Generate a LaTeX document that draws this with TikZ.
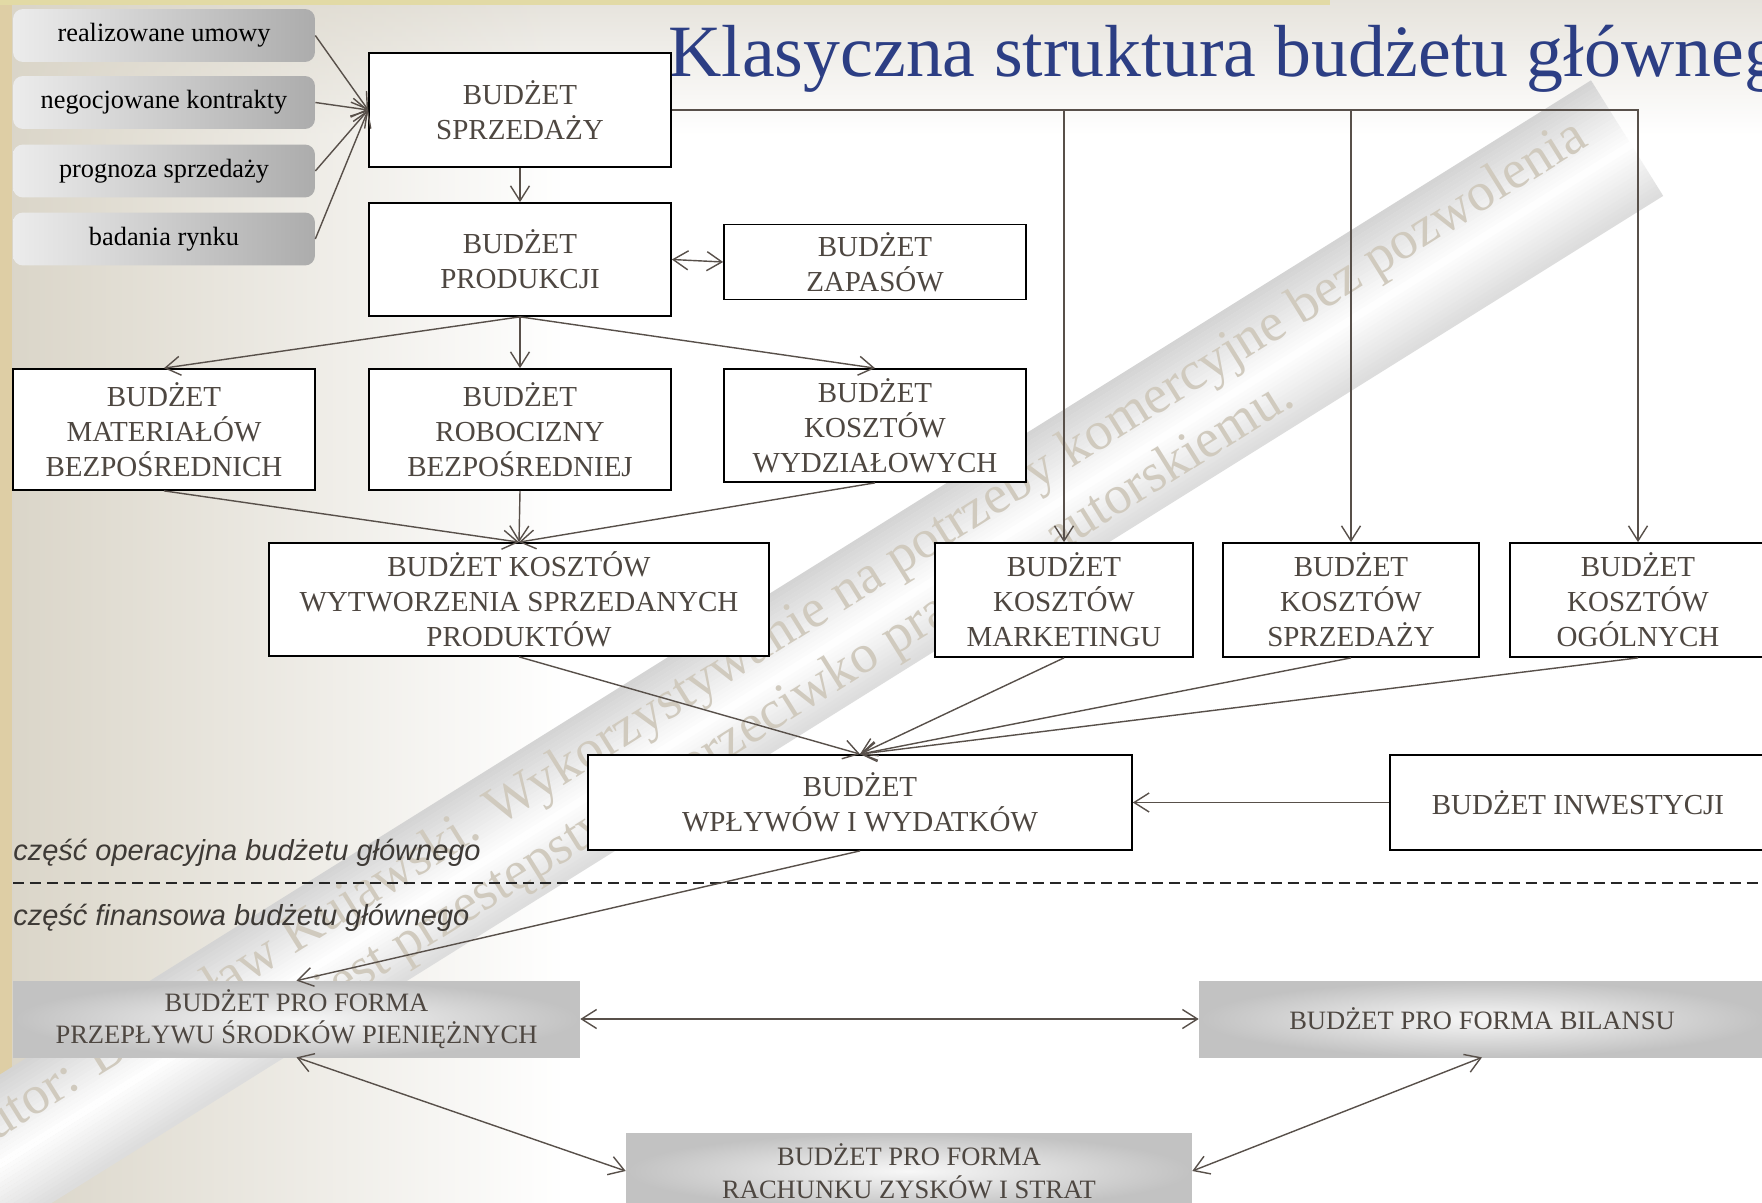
\documentclass[tikz,border=0pt]{standalone}
\usepackage{fontspec}
\setmainfont{Liberation Serif}
\newfontfamily\labelfont{Liberation Sans}
\usetikzlibrary{arrows.meta,fadings}
\definecolor{titleblue}{RGB}{44,62,132}
\definecolor{textbrown}{RGB}{78,71,65}
\definecolor{linebrown}{RGB}{88,80,74}
\definecolor{labelgray}{RGB}{62,58,54}
\definecolor{bgbeige}{RGB}{218,213,200}
\definecolor{topgray}{RGB}{230,227,220}
\definecolor{striptan}{RGB}{222,206,165}
\definecolor{stripyellow}{RGB}{226,218,165}
\definecolor{bandgray}{RGB}{212,212,212}
\definecolor{markgray}{RGB}{208,202,190}

\begin{document}
\begin{tikzpicture}[x=0.02cm, y=-0.02cm,
    >={Straight Barb[length=0.3cm,width=0.38cm]},
    box/.style={draw=black, line width=1pt, fill=white, align=center, inner sep=0pt,
      text=textbrown, font=\fontsize{16.5}{19.9}\selectfont},
    source/.style={rounded corners=0.2cm, left color=gray!15, right color=gray!65,
      minimum width=6.04cm, minimum height=1.06cm, inner sep=0pt,
      font=\fontsize{15}{18}\selectfont},
    proforma/.style={inner color=gray!6, outer color=gray!48, align=center, inner sep=0pt,
      text=textbrown, minimum width=11.32cm, minimum height=1.52cm,
      font=\fontsize{15.1}{18.6}\selectfont},
    link/.style={->, draw=linebrown, line width=0.8pt}]

  \useasboundingbox (0,0) rectangle (1762,1203);
  \clip (0,0) rectangle (1762,1203);

  % background
  \fill[white] (0,0) rectangle (1762,1203);
  \shade[top color=topgray, bottom color=white] (0,0) rectangle (1762,135);
  \fill[bgbeige, path fading=east] (0,0) rectangle (560,1203);
  \fill[striptan] (0,0) rectangle (12,1203);
  \fill[stripyellow] (0,0) rectangle (1330,5);

  % watermark band
  \begin{scope}[transform canvas={shift={(1627,138)}, rotate=32}]
    \foreach \p in {-68,-64,...,64} {
      \pgfmathsetmacro\shadeval{\p<6 ? 100*(6-\p)/74 : 85*(\p-6)/62}
      \fill[bandgray!\shadeval!white] (-2300,\p) rectangle (0,\p+4.3);
    }
    \node[anchor=base east, inner sep=0pt, text=markgray, font=\fontsize{31}{37}\selectfont] (mark1) at (-35,-14)
      {Autor: Bogusław Kujawski. Wykorzystywanie na potrzeby komercyjne bez pozwolenia};
    \node[anchor=base, inner sep=0pt, text=markgray, font=\fontsize{31}{37}\selectfont] (mark2) at (-992,51)
      {jest przestępstwem przeciwko prawom autorskiemu.};
  \end{scope}

  % title
  \node[anchor=base west, inner sep=0pt, text=titleblue, font=\fontsize{42}{50}\selectfont] (title) at (668,77)
    {Klasyczna struktura budżetu głównego};

  % operational / financial part
  \node[anchor=base west, inner sep=0pt, text=labelgray, font=\labelfont\itshape\fontsize{16.5}{20}\selectfont] (oper) at (13,860)
    {część operacyjna budżetu głównego};
  \node[anchor=base west, inner sep=0pt, text=labelgray, font=\labelfont\itshape\fontsize{16.5}{20}\selectfont] (fin) at (13,925)
    {część finansowa budżetu głównego};
  \draw[black!85, line width=0.8pt, dash pattern=on 0.22cm off 0.12cm] (13,883) -- (1762,883);

  % sources of the sales budget
  \node[source] (umowy) at (164,35.5) {realizowane umowy};
  \node[source] (kontrakty) at (164,102.5) {negocjowane kontrakty};
  \node[source] (prognoza) at (164,171) {prognoza sprzedaży};
  \node[source] (badania) at (164,239) {badania rynku};

  % operational budgets
  \node[box, minimum width=6.04cm, minimum height=2.28cm] (sprz) at (520,110) {BUDŻET\\SPRZEDAŻY};
  \node[box, minimum width=6.04cm, minimum height=2.26cm] (prod) at (520,259.5) {BUDŻET\\PRODUKCJI};
  \node[box, minimum width=6.04cm, minimum height=1.5cm] (zap) at (875,262) {BUDŻET\\ZAPASÓW};
  \node[box, minimum width=6.04cm, minimum height=2.42cm] (mat) at (164,429.5) {BUDŻET\\MATERIAŁÓW\\BEZPOŚREDNICH};
  \node[box, minimum width=6.04cm, minimum height=2.42cm] (rob) at (520,429.5) {BUDŻET\\ROBOCIZNY\\BEZPOŚREDNIEJ};
  \node[box, minimum width=6.04cm, minimum height=2.26cm] (wydz) at (875,425.5) {BUDŻET\\KOSZTÓW\\WYDZIAŁOWYCH};
  \node[box, minimum width=10cm, minimum height=2.26cm] (kw) at (519,599.5) {BUDŻET KOSZTÓW\\WYTWORZENIA SPRZEDANYCH\\PRODUKTÓW};
  \node[box, minimum width=5.16cm, minimum height=2.28cm] (mark) at (1064,600) {BUDŻET\\KOSZTÓW\\MARKETINGU};
  \node[box, minimum width=5.12cm, minimum height=2.28cm] (ksprz) at (1351,600) {BUDŻET\\KOSZTÓW\\SPRZEDAŻY};
  \node[box, minimum width=5.12cm, minimum height=2.28cm] (ogol) at (1638,600) {BUDŻET\\KOSZTÓW\\OGÓLNYCH};
  \node[box, minimum width=10.88cm, minimum height=1.9cm] (wplyw) at (860,802.5) {BUDŻET\\WPŁYWÓW I WYDATKÓW};
  \node[box, minimum width=7.52cm, minimum height=1.9cm] (inw) at (1578,802.5) {BUDŻET INWESTYCJI};

  % financial budgets
  \node[proforma, minimum width=11.34cm] (przep) at (296.5,1019) {BUDŻET PRO FORMA\\PRZEPŁYWU ŚRODKÓW PIENIĘŻNYCH};
  \node[proforma] (bilans) at (1482,1019) {BUDŻET PRO FORMA BILANSU};
  \node[proforma] (rach) at (909,1171) {BUDŻET PRO FORMA\\RACHUNKU ZYSKÓW I STRAT};

  % connectors
  \foreach \src in {umowy,kontrakty,prognoza,badania}
    \draw[link] (\src.east) -- (sprz.west);
  \draw[link] (sprz.south) -- (prod.north);
  \draw[link, <->] (prod.east) -- (zap.west);
  \draw[link] (sprz.east) -| (ogol.north);
  \draw[link] (sprz.east -| mark.north) -- (mark.north);
  \draw[link] (sprz.east -| ksprz.north) -- (ksprz.north);
  \foreach \dst in {mat,rob,wydz}
    \draw[link] (prod.south) -- (\dst.north);
  \foreach \src in {mat,rob,wydz}
    \draw[link] (\src.south) -- (kw.north);
  \foreach \src in {kw,mark,ksprz,ogol}
    \draw[link] (\src.south) -- (wplyw.north);
  \draw[link] (inw.west) -- (wplyw.east);
  \draw[link] (wplyw.south) -- (przep.north);
  \draw[link, <->] (przep.east) -- (bilans.west);
  \draw[link, <->] (przep.south) -- (rach.west);
  \draw[link, <->] (bilans.south) -- (rach.east);
\end{tikzpicture}
\end{document}
